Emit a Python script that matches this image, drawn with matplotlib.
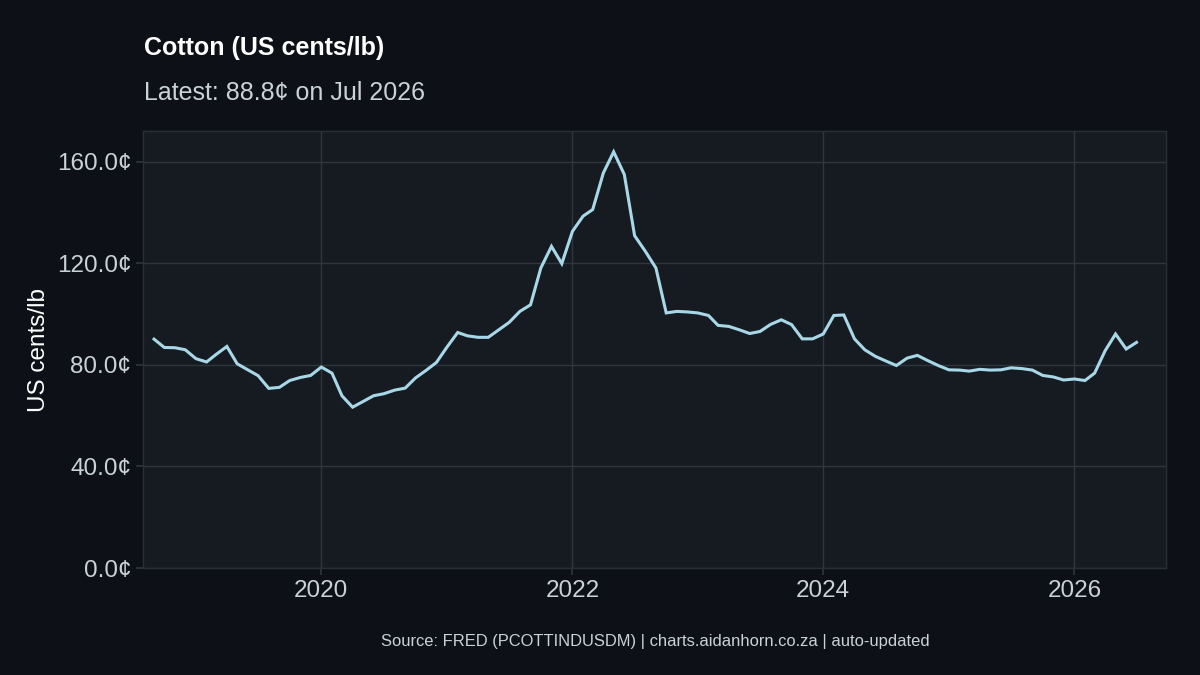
import matplotlib
matplotlib.use("Agg")
from matplotlib import pyplot as plt
import matplotlib.dates as mdates
import matplotlib.ticker as mticker
import pandas as pd

# monthly cotton price, US cents/lb, Sep 2018 - Jul 2026
start_month = "2018-09-01"
price_2018 = [90.1, 86.8, 86.7, 85.9]
price_2019 = [82.4, 81.1, 84.1, 87.2, 80.4, 78.0, 75.7, 70.7, 71.1, 73.8, 75.0, 75.8]
price_2020 = [79.1, 76.7, 67.8, 63.3, 65.5, 67.8, 68.6, 70.0, 70.8, 74.8, 77.8, 80.9]
price_2021 = [87.0, 92.7, 91.4, 90.8, 90.8, 93.8, 96.7, 101.0, 103.6, 118.1, 126.6, 119.8]
price_2022 = [132.5, 138.5, 141.1, 155.5, 163.8, 154.9, 130.8, 124.7, 118.1, 100.4, 101.0, 100.8]
price_2023 = [100.4, 99.4, 95.5, 95.1, 93.8, 92.3, 93.1, 95.9, 97.7, 95.8, 90.2, 90.2]
price_2024 = [92.1, 99.4, 99.6, 90.2, 85.9, 83.3, 81.5, 79.7, 82.6, 83.7, 81.6, 79.7]
price_2025 = [78.0, 77.9, 77.5, 78.2, 77.9, 78.0, 78.8, 78.5, 77.9, 75.8, 75.2, 74.0]
price_2026 = [74.4, 73.8, 76.7, 85.6, 92.1, 86.2, 88.8]

prices = (price_2018 + price_2019 + price_2020 + price_2021 + price_2022
          + price_2023 + price_2024 + price_2025 + price_2026)
dates = pd.date_range(start_month, periods=len(prices), freq="MS")

y_ticks = [0, 40, 80, 120, 160]
x_tick_years = [2020, 2022, 2024, 2026]

BG = "#0d1117"
PANEL = "#161b22"
GRID = "#30363d"
TXT = "#c9d1d9"
LINE = "#a8d8e8"

plt.rcParams['font.family'] = ['Liberation Sans', 'DejaVu Sans']

fig = plt.figure(figsize=(12, 6.75), dpi=100, facecolor=BG)
ax = fig.add_axes([0.1192, 0.1585, 0.8525, 0.6474], facecolor=PANEL)

ax.plot(dates, prices, color=LINE, lw=2.2, solid_joinstyle="miter", zorder=3)

ax.set_ylim(0, 172)
ax.set_xlim(pd.Timestamp("2018-07-31"), pd.Timestamp("2026-09-25"))
ax.set_yticks(y_ticks)
ax.yaxis.set_major_formatter(mticker.FuncFormatter(lambda v, p: f"{v:.1f}¢"))
ax.set_xticks([pd.Timestamp(f"{y}-01-01") for y in x_tick_years])
ax.xaxis.set_major_formatter(mdates.DateFormatter("%Y"))

ax.grid(True, color=GRID, lw=1.0, zorder=0)
ax.set_axisbelow(True)
for s in ax.spines.values():
    s.set_color("#2a2f37")
    s.set_linewidth(1.0)

ax.tick_params(colors=GRID, labelcolor=TXT, labelsize=17.5, length=5, width=1.2, pad=3.5)
ax.set_ylabel("US cents/lb", color="white", fontsize=17.5, labelpad=5)

fig.text(0.12, 0.929, "Cotton (US cents/lb)", color="white", fontsize=18,
         fontweight="bold", ha="left", va="center")
fig.text(0.12, 0.862, "Latest: 88.8¢ on Jul 2026", color=TXT, fontsize=18,
         ha="left", va="center")
fig.text(0.546, 0.049, "Source: FRED (PCOTTINDUSDM) | charts.aidanhorn.co.za | auto-updated",
         color=TXT, fontsize=11.9, ha="center", va="center")

fig.savefig("out.png", dpi=100, facecolor=BG)
